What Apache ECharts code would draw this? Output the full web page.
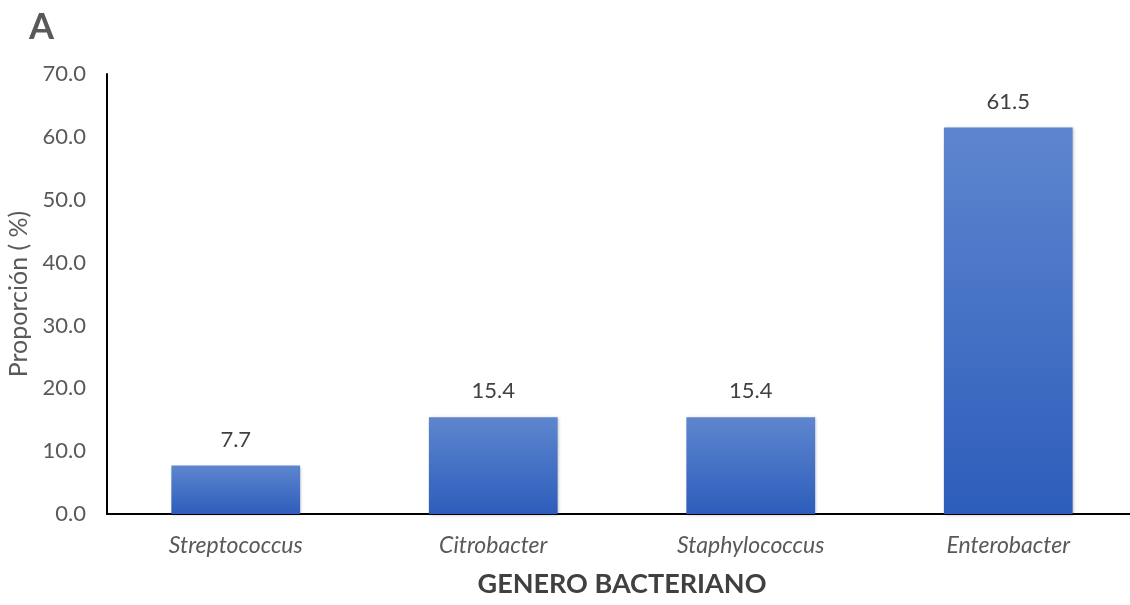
<!DOCTYPE html>
<html lang="es">
<head>
    <meta charset="UTF-8">
    <title>Genero bacteriano</title>
    <script src="https://cdn.jsdelivr.net/npm/echarts@6.0.0/dist/echarts.min.js"></script>
    <style>
        html, body {
            margin: 0;
            border: 0;
            background: #fff;
        }

        #chart {
            width: 1130px;
            height: 605px;
        }
    </style>
</head>
<body>
<div id="chart"></div>
<script type="text/javascript">
    const generos = ['Streptococcus', 'Citrobacter', 'Staphylococcus', 'Enterobacter'];
    const proporcion = [7.7, 15.4, 15.4, 61.5];

    const font = 'Lato, "Open Sans", sans-serif';

    window.onload = () => {
        const chart = echarts.init(document.querySelector('#chart'));
        const option = {
            animation: false,
            textStyle: {fontFamily: font},
            title: {
                text: 'A',
                left: 24,
                top: 4,
                textStyle: {fontSize: 36, fontWeight: 'bold', color: '#595959', fontFamily: font}
            },
            grid: {
                left: 107, top: 74, width: 1030, height: 440,
                containLabel: false,
                outerBoundsMode: 'none'
            },
            xAxis: {
                type: 'category',
                data: generos,
                name: 'GENERO BACTERIANO',
                nameLocation: 'middle',
                nameGap: 57,
                nameTextStyle: {fontSize: 27, fontWeight: 'bold', color: '#404040', fontFamily: font},
                axisLine: {lineStyle: {color: '#000', width: 2}},
                axisTick: {show: false},
                axisLabel: {fontSize: 23, fontStyle: 'italic', color: '#595959', margin: 20}
            },
            yAxis: {
                type: 'value',
                min: 0,
                max: 70,
                interval: 10,
                name: 'Proporción ( %)',
                nameLocation: 'middle',
                nameGap: 73,
                nameTextStyle: {fontSize: 25, color: '#595959', fontFamily: font},
                axisLine: {show: true, lineStyle: {color: '#000', width: 2}},
                axisTick: {show: false},
                splitLine: {show: false},
                axisLabel: {
                    fontSize: 22,
                    color: '#595959',
                    margin: 21,
                    formatter: v => v.toFixed(1)
                }
            },
            series: [{
                type: 'bar',
                data: proporcion,
                barWidth: '50%',
                itemStyle: {
                    color: new echarts.graphic.LinearGradient(0, 0, 0, 1, [
                        {offset: 0, color: '#5e86cf'},
                        {offset: 1, color: '#2d5dbb'}
                    ]),
                    shadowColor: 'rgba(0,0,0,0.25)',
                    shadowBlur: 3,
                    shadowOffsetX: 1,
                    shadowOffsetY: 1
                },
                label: {
                    show: true,
                    position: 'top',
                    distance: 15,
                    fontSize: 22,
                    color: '#404040',
                    formatter: p => p.value.toFixed(1)
                }
            }]
        };
        chart.setOption(option);
    };
</script>
</body>
</html>
